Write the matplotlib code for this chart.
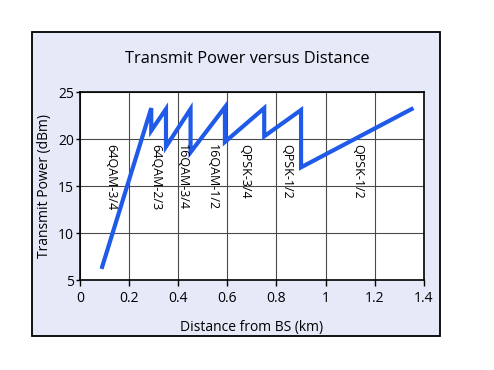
import matplotlib
matplotlib.use("Agg")
import matplotlib.pyplot as plt
from matplotlib.patches import Rectangle

# distance (km) and transmit power (dBm)
distance_km = [0.09, 0.29, 0.29, 0.35, 0.35, 0.45, 0.45, 0.59, 0.59,
               0.75, 0.75, 0.90, 0.90, 1.35]
power_dbm = [6.4, 23.3, 20.9, 23.2, 19.2, 23.2, 18.6, 23.4, 19.7,
             23.3, 20.3, 23.1, 17.0, 23.2]

mod_labels = ['64QAM-3/4', '64QAM-2/3', '16QAM-3/4', '16QAM-1/2',
              'QPSK-3/4', 'QPSK-1/2', 'QPSK-1/2']
mod_label_x = [0.125, 0.31, 0.415, 0.54, 0.67, 0.84, 1.13]
mod_label_y = 19.5

plt.rcParams['font.family'] = ['Open Sans', 'DejaVu Sans']

fig = plt.figure(figsize=(4.94, 3.70), dpi=100)
fig.patch.set_facecolor('white')
fig.patches.append(Rectangle((0.064, 0.092), 0.826, 0.822, transform=fig.transFigure,
                             facecolor='#e6e9f8', edgecolor='black', linewidth=1.3,
                             zorder=-5))

ax = fig.add_axes([0.162, 0.243, 0.696, 0.508])
ax.set_facecolor('white')
ax.plot(distance_km, power_dbm, color='#1f5ae8', linewidth=3.0,
        solid_joinstyle='miter', zorder=3)

for lbl, x in zip(mod_labels, mod_label_x):
    ax.text(x, mod_label_y, lbl, rotation=-90, ha='center', va='top',
            fontsize=9, color='black', zorder=4)

ax.set_xlim(0, 1.4)
ax.set_ylim(5, 25)
ax.set_xticks([0, 0.2, 0.4, 0.6, 0.8, 1.0, 1.2, 1.4])
ax.set_xticklabels(['0', '0.2', '0.4', '0.6', '0.8', '1', '1.2', '1.4'])
ax.set_yticks([5, 10, 15, 20, 25])
ax.grid(True, color='#4a4a4a', linewidth=0.8)
ax.set_axisbelow(True)
for s in ax.spines.values():
    s.set_color('black')
    s.set_linewidth(1.2)
ax.tick_params(axis='x', labelsize=10, length=4, width=1, direction='out', pad=4)
ax.tick_params(axis='y', labelsize=10, length=3, width=1, direction='out', pad=1.5)

ax.set_xlabel('Distance from BS (km)', fontsize=10, labelpad=10)
ax.set_ylabel('Transmit Power (dBm)', fontsize=10, labelpad=4)
fig.text(0.5, 0.84, 'Transmit Power versus Distance', ha='center', va='center',
         fontsize=11.8)

fig.savefig('out.png', dpi=100)
